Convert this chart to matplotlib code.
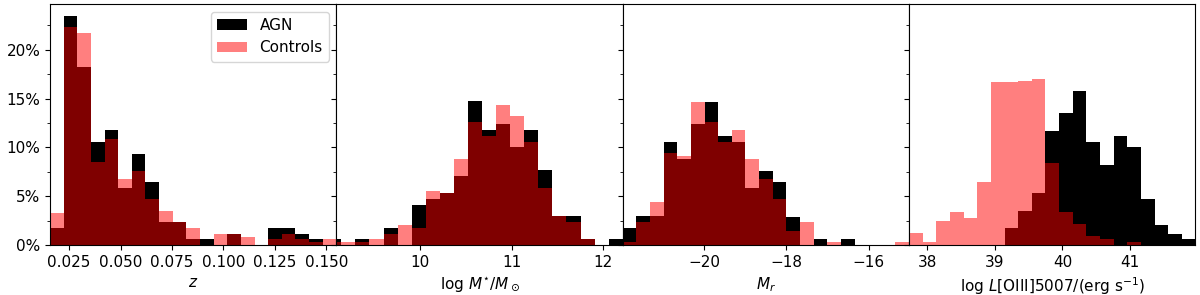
import numpy as np
import matplotlib
matplotlib.use("Agg")
import matplotlib.pyplot as plt
from matplotlib.ticker import MultipleLocator, PercentFormatter

plt.rcParams['font.size'] = 11

# ---- data (percent of sample per bin) ----
z_agn = [1.74, 23.5, 18.2, 10.6, 11.8, 5.88, 9.37, 6.43, 2.32, 2.32, 0.58,
         0.58, 0, 1.16, 0, 0, 1.74, 1.74, 1.16, 0.58, 0]
z_ctrl = [3.25, 22.3, 21.7, 8.55, 10.9, 6.73, 7.62, 4.68, 3.52, 2.32, 1.74,
          0, 1.16, 1.16, 0.87, 0, 0.58, 1.16, 0.58, 0.29, 0.58]

mass_agn = [0.58, 0, 0.58, 0, 1.74, 0, 4.14, 4.72, 5.3, 7.08, 14.8, 11.76,
            12.4, 10.05, 11.8, 7.66, 2.94, 2.94, 0.58, 0, 0.58]
mass_ctrl = [0.29, 0.29, 0.29, 0.58, 1.16, 2.05, 1.74, 5.57, 5.3, 8.79, 12.6,
             11.18, 14.4, 13.2, 10.56, 5.88, 2.94, 2.32, 0.58, 0, 0]

mr_agn = [1.74, 2.94, 2.94, 10.56, 8.82, 12.4, 14.67, 11.18, 10.56, 5.88,
          7.6, 6.43, 2.9, 0, 0.58, 0, 0.58, 0, 0, 0, 0]
mr_ctrl = [0.29, 2.32, 4.44, 9.4, 9.16, 14.7, 12.6, 10.56, 11.76, 8.79,
           6.73, 4.68, 1.47, 2.32, 0, 0.29, 0, 0, 0, 0, 0.29]

loiii_agn = [0, 0, 0, 0, 0, 0, 0, 1.71, 3.52, 5.3, 11.7, 13.5, 15.8, 10.6,
             8.2, 11.18, 10.0, 4.68, 2.05, 1.13, 0.58]
loiii_ctrl = [1.2, 0.29, 2.5, 3.42, 2.77, 6.5, 16.75, 16.75, 16.8, 17.0,
              8.38, 3.42, 2.15, 0.92, 0.58, 0, 0.29, 0, 0, 0, 0]

bin_ranges = [(0.0157, 0.1549), (8.984, 12.212), (-21.974, -15.025), (37.734, 41.966)]
xlims = [(0.0157, 0.1549), (9.084, 12.212), (-21.974, -15.025), (37.734, 41.966)]
xticks = [[0.025, 0.050, 0.075, 0.100, 0.125, 0.150], [10, 11, 12],
          [-20, -18, -16], [38, 39, 40, 41]]
xlabels = [r'$z$', r'$\log\,M^{\star}/M_\odot$', r'$M_r$',
           r'$\log\,L$[OIII]5007/(erg s$^{-1}$)']

agn_sets = [z_agn, mass_agn, mr_agn, loiii_agn]
ctrl_sets = [z_ctrl, mass_ctrl, mr_ctrl, loiii_ctrl]

fig = plt.figure(figsize=(12, 2.95), dpi=100)
axes = fig.subplots(1, 4, sharey=True)
fig.subplots_adjust(left=0.0417, right=0.9962, bottom=0.1695, top=0.9864, wspace=0)

for i, ax in enumerate(axes):
    agn = np.asarray(agn_sets[i], dtype=float)
    ctrl = np.asarray(ctrl_sets[i], dtype=float)
    edges = np.linspace(bin_ranges[i][0], bin_ranges[i][1], len(agn) + 1)
    widths = np.diff(edges)
    b1 = ax.bar(edges[:-1], agn, width=widths, align='edge', color='black',
                linewidth=0, label='AGN')
    b2 = ax.bar(edges[:-1], ctrl, width=widths, align='edge', color='red',
                alpha=0.5, linewidth=0, label='Controls')
    ax.set_xlim(*xlims[i])
    ax.set_xticks(xticks[i])
    if i == 0:
        ax.set_xticklabels(['0.025', '0.050', '0.075', '0.100', '0.125', '0.150'])
    ax.set_xlabel(xlabels[i])
    ax.yaxis.set_minor_locator(MultipleLocator(2.5))

axes[0].set_ylim(0, 24.7)
axes[0].yaxis.set_major_locator(MultipleLocator(5))
axes[0].yaxis.set_major_formatter(PercentFormatter(xmax=100, decimals=0))
axes[0].legend(loc='upper right')

fig.savefig('out.png', dpi=100)
